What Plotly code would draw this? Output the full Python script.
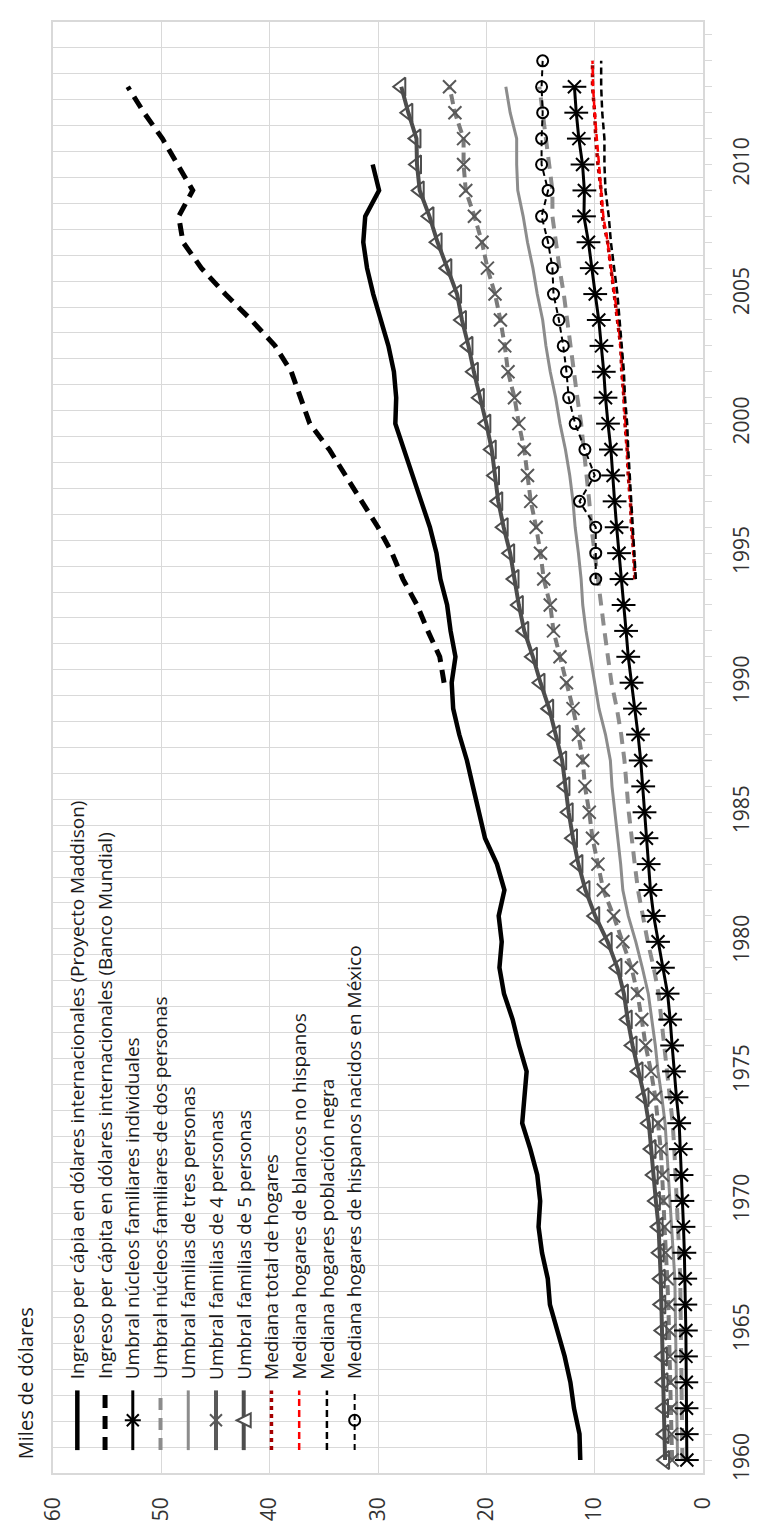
import plotly.graph_objects as go

# ---------------- data (miles de dólares) ----------------
years_umbral = list(range(1960, 2014))
years_maddison = list(range(1960, 2011))
years_bm = list(range(1990, 2014))
years_mediana = list(range(1994, 2015))

maddison = [11.33, 11.40, 11.91, 12.24, 12.77, 13.42, 14.13, 14.33, 14.86, 15.18,
            15.03, 15.30, 15.94, 16.69, 16.49, 16.28, 16.98, 17.57, 18.37, 18.79,
            18.58, 18.86, 18.33, 19.02, 20.12, 20.72, 21.24, 21.79, 22.50, 23.06,
            23.20, 22.85, 23.30, 23.62, 24.24, 24.60, 25.21, 26.01, 26.77, 27.58,
            28.40, 28.32, 28.53, 29.04, 29.77, 30.44, 31.01, 31.36, 31.18, 29.90, 30.49]

banco_mundial = [23.9, 24.3, 25.4, 26.4, 27.7, 28.7, 30.0, 31.5, 32.9, 34.5,
                 36.3, 37.1, 38.0, 39.5, 41.7, 44.1, 46.3, 48.0, 48.4, 47.1,
                 48.5, 49.9, 51.6, 53.1]

umbral_1 = [1.49, 1.50, 1.52, 1.54, 1.57, 1.58, 1.63, 1.64, 1.72, 1.80,
            1.90, 1.98, 2.05, 2.20, 2.45, 2.68, 2.85, 3.03, 3.27, 3.70,
            4.15, 4.55, 4.85, 5.02, 5.22, 5.40, 5.52, 5.75, 6.00, 6.28,
            6.60, 6.90, 7.10, 7.33, 7.52, 7.75, 7.97, 8.16, 8.30, 8.50,
            8.77, 9.00, 9.16, 9.37, 9.62, 9.95, 10.27, 10.57, 10.99, 10.95,
            11.12, 11.46, 11.70, 11.87]

umbral_2 = [1.90, 1.92, 1.95, 1.97, 2.00, 2.03, 2.08, 2.10, 2.20, 2.30,
            2.42, 2.55, 2.65, 2.80, 3.05, 3.30, 3.55, 3.80, 4.10, 4.55,
            5.10, 5.55, 6.00, 6.30, 6.60, 6.85, 7.05, 7.25, 7.55, 7.95,
            8.45, 8.80, 9.10, 9.40, 9.70, 10.00, 10.30, 10.50, 10.75, 11.00,
            11.25, 11.60, 11.90, 12.20, 12.50, 12.85, 13.25, 13.60, 13.90, 13.90,
            14.20, 14.50, 14.80, 15.10]

umbral_3 = [2.35, 2.38, 2.41, 2.44, 2.49, 2.51, 2.58, 2.60, 2.75, 2.90,
            3.05, 3.15, 3.30, 3.50, 3.80, 4.15, 4.40, 4.70, 5.05, 5.60,
            6.20, 6.90, 7.40, 7.60, 7.85, 8.10, 8.40, 8.55, 9.00, 9.60,
            10.00, 10.40, 10.80, 11.10, 11.25, 11.50, 11.80, 12.00, 12.30, 12.70,
            13.20, 13.60, 14.10, 14.50, 14.80, 15.30, 15.70, 16.20, 16.60, 17.10,
            17.20, 17.20, 17.80, 18.20]

umbral_4 = [2.85, 2.90, 2.95, 3.00, 3.05, 3.10, 3.20, 3.30, 3.45, 3.55,
            3.65, 3.75, 3.90, 4.15, 4.40, 4.80, 5.30, 5.65, 6.05, 6.60,
            7.40, 8.25, 9.20, 9.70, 10.20, 10.50, 10.90, 11.10, 11.50, 12.00,
            12.60, 13.20, 13.80, 14.10, 14.70, 15.00, 15.40, 15.90, 16.20, 16.50,
            17.00, 17.40, 18.00, 18.30, 18.70, 19.20, 19.90, 20.40, 21.10, 21.90,
            22.10, 22.10, 22.90, 23.40]

umbral_5 = [3.50, 3.55, 3.60, 3.65, 3.70, 3.75, 3.85, 3.90, 4.00, 4.10,
            4.35, 4.55, 4.75, 5.00, 5.40, 5.95, 6.50, 6.95, 7.30, 7.90,
            8.80, 9.95, 10.85, 11.50, 12.00, 12.40, 12.70, 13.00, 13.60, 14.20,
            15.00, 15.70, 16.50, 17.00, 17.40, 17.80, 18.40, 18.90, 19.20, 19.50,
            20.00, 20.60, 21.15, 21.65, 22.25, 22.70, 23.60, 24.50, 25.25, 26.15,
            26.40, 26.45, 27.20, 27.85]

mediana_total = [6.3, 6.4, 6.6, 6.7, 6.9, 7.0, 7.2, 7.3, 7.5, 7.6, 7.9,
                 8.2, 8.5, 8.8, 9.3, 9.4, 9.7, 9.9, 10.0, 10.2, 10.2]
mediana_blancos = [6.25, 6.4, 6.55, 6.7, 6.85, 7.0, 7.15, 7.3, 7.45, 7.6, 7.85,
                   8.15, 8.45, 8.8, 9.2, 9.4, 9.65, 9.85, 10.0, 10.15, 10.2]
mediana_negra = [6.2, 6.35, 6.5, 6.65, 6.8, 6.9, 7.0, 7.2, 7.3, 7.5, 7.7,
                 7.9, 8.2, 8.5, 8.7, 9.0, 9.1, 9.1, 9.3, 9.4, 9.4]
mediana_mexico = [9.9, 9.9, 9.9, 11.4, 10.0, 10.9, 11.8, 12.4, 12.6, 12.9, 13.3,
                  13.8, 13.9, 14.3, 14.9, 14.3, 14.9, 14.9, 14.8, 14.9, 14.8]

legend_names = [
    "Ingreso per cápia en dólares internacionales (Proyecto Maddison)",
    "Ingreso per cápita en dólares internacionales (Banco Mundial)",
    "Umbral núcleos familiares individuales",
    "Umbral núcleos familiares de dos personas",
    "Umbral familias de tres personas",
    "Umbral familias de 4 personas",
    "Umbral familias de 5 personas",
    "Mediana total de hogares",
    "Mediana hogares de blancos no hispanos",
    "Mediana hogares población negra",
    "Mediana hogares de hispanos nacidos en México",
]
axis_title = "Miles de dólares"

# ---------------- geometry ----------------
W, H = 759, 1525
L, R, T, B = 45, 46, 12, 55
PW, PH = W - L - R, H - T - B
FONT = "Open Sans"


def px(xp):
    return (xp - L) / PW


def py(yp):
    return (T + PH - yp) / PH


fig = go.Figure()


def add(x, y, name, color, width, dash="solid", symbol=None, msize=10,
        mcolor=None, mwidth=2):
    mode = "lines+markers" if symbol else "lines"
    fig.add_trace(go.Scatter(
        x=y, y=x, name=name, mode=mode,
        line=dict(color=color, width=width, dash=dash),
        marker=dict(symbol=symbol, size=msize, color=mcolor or color,
                    line=dict(color=mcolor or color, width=mwidth)) if symbol else None,
        showlegend=False,
    ))


add(years_maddison, maddison, legend_names[0], "#000000", 4.5)
add(years_bm, banco_mundial, legend_names[1], "#000000", 5, dash="13px,8px")
add(years_umbral, umbral_2, legend_names[3], "#8c8c8c", 4, dash="12px,8px")
add(years_umbral, umbral_3, legend_names[4], "#8c8c8c", 3)
add(years_umbral, umbral_4, legend_names[5], "#7a7a7a", 4, dash="10px,5px",
    symbol="x-thin-open", msize=13, mcolor="#595959", mwidth=2)
add(years_umbral, umbral_5, legend_names[6], "#4d4d4d", 4,
    symbol="triangle-left-open", msize=16, mcolor="#4d4d4d", mwidth=2)
add(years_umbral, umbral_1, legend_names[2], "#000000", 3,
    symbol="x-thin-open", msize=13, mwidth=2)
fig.add_trace(go.Scatter(x=umbral_1, y=years_umbral, mode="markers",
                         marker=dict(symbol="line-ew-open", size=17, color="#000000",
                                     line=dict(color="#000000", width=2)),
                         showlegend=False, hoverinfo="skip"))
add(years_mediana, mediana_total, legend_names[7], "#a50000", 3.5, dash="4px,4px")
add(years_mediana, mediana_blancos, legend_names[8], "#ff0000", 2.5, dash="7px,4px")
add(years_mediana, mediana_negra, legend_names[9], "#000000", 2.5, dash="7px,4px")
add(years_mediana, mediana_mexico, legend_names[10], "#000000", 2, dash="6px,4px",
    symbol="circle-open", msize=11, mwidth=2)

# ---------------- legend (drawn rotated) ----------------
shapes = []
annotations = []

shapes.append(dict(type="rect", xref="paper", yref="paper",
                   x0=px(55), x1=px(370), y0=py(1466), y1=py(716),
                   fillcolor="white", line=dict(width=0), layer="between"))

row_x = [70 + 28.5 * i for i in range(len(legend_names))]
styles = [
    dict(color="#000000", width=4.5, dash="solid", mk=None),
    dict(color="#000000", width=5, dash="13px,8px", mk=None),
    dict(color="#000000", width=3, dash="solid", mk="asterisk"),
    dict(color="#8c8c8c", width=4, dash="12px,8px", mk=None),
    dict(color="#8c8c8c", width=3, dash="solid", mk=None),
    dict(color="#595959", width=4, dash="solid", mk="x"),
    dict(color="#4d4d4d", width=4, dash="solid", mk="tri"),
    dict(color="#a50000", width=3.5, dash="4px,4px", mk=None),
    dict(color="#ff0000", width=2.5, dash="7px,4px", mk=None),
    dict(color="#000000", width=2.5, dash="7px,4px", mk=None),
    dict(color="#000000", width=2, dash="6px,4px", mk="circle"),
]

for xr, name, st in zip(row_x, legend_names, styles):
    shapes.append(dict(type="line", xref="paper", yref="paper",
                       x0=px(xr), x1=px(xr), y0=py(1447), y1=py(1387),
                       line=dict(color=st["color"], width=st["width"], dash=st["dash"]),
                       layer="above"))
    ax, ay = px(xr), py(1417)
    mk = st["mk"]
    if mk == "asterisk":
        shapes.append(dict(type="path", xref="paper", yref="paper",
                           xsizemode="pixel", ysizemode="pixel", xanchor=ax, yanchor=ay,
                           path="M-6,-6 L6,6 M-6,6 L6,-6 M-8,0 L8,0",
                           line=dict(color="#000000", width=2), layer="above"))
    elif mk == "x":
        shapes.append(dict(type="path", xref="paper", yref="paper",
                           xsizemode="pixel", ysizemode="pixel", xanchor=ax, yanchor=ay,
                           path="M-6,-6 L6,6 M-6,6 L6,-6",
                           line=dict(color="#595959", width=2), layer="above"))
    elif mk == "tri":
        shapes.append(dict(type="path", xref="paper", yref="paper",
                           xsizemode="pixel", ysizemode="pixel", xanchor=ax, yanchor=ay,
                           path="M-7,0 L7,-7 L7,7 Z", fillcolor="white",
                           line=dict(color="#4d4d4d", width=2), layer="above"))
    elif mk == "circle":
        shapes.append(dict(type="circle", xref="paper", yref="paper",
                           xsizemode="pixel", ysizemode="pixel", xanchor=ax, yanchor=ay,
                           x0=-5.5, x1=5.5, y0=-5.5, y1=5.5, fillcolor="rgba(0,0,0,0)",
                           line=dict(color="#000000", width=2), layer="above"))
    annotations.append(dict(xref="paper", yref="paper", x=px(xr), y=py(1378),
                            text=name, showarrow=False, textangle=-90,
                            xanchor="center", yanchor="bottom",
                            font=dict(family=FONT, size=19, color="#1a1a1a")))

annotations.append(dict(xref="paper", yref="paper", x=px(17), y=py(1380),
                        text=axis_title, showarrow=False, textangle=-90,
                        xanchor="center", yanchor="middle",
                        font=dict(family=FONT, size=20, color="#1a1a1a")))

tick_years = list(range(1960, 2016))
tick_text = [str(y) if y % 5 == 0 else "" for y in tick_years]
minor_vals = [y + 0.5 for y in range(1959, 2016)]

fig.update_layout(
    width=W, height=H,
    margin=dict(l=L, r=R, t=T, b=B, pad=0),
    paper_bgcolor="white", plot_bgcolor="white",
    showlegend=False,
    font=dict(family=FONT, color="#333333"),
    shapes=shapes, annotations=annotations,
    xaxis=dict(range=[60, 0], tickvals=[0, 10, 20, 30, 40, 50, 60],
               showgrid=True, gridcolor="#d9d9d9", gridwidth=1,
               showline=True, linecolor="#d9d9d9", linewidth=1.5, mirror=True,
               zeroline=False, ticks="", tickangle=-90,
               tickfont=dict(family=FONT, size=21, color="#333333"),
               ticklabelstandoff=14),
    yaxis=dict(range=[1959.5, 2015.5], side="right",
               tickvals=tick_years, ticktext=tick_text,
               showgrid=False, zeroline=False,
               showline=True, linecolor="#d9d9d9", linewidth=1.5, mirror=True,
               ticks="outside", ticklen=7, tickcolor="#d9d9d9", tickwidth=1,
               tickangle=-90,
               tickfont=dict(family=FONT, size=21, color="#333333"),
               ticklabelstandoff=12,
               minor=dict(tickvals=minor_vals, showgrid=True, gridcolor="#d9d9d9",
                          gridwidth=1, ticks="")),
)

fig.write_html("out.html")
